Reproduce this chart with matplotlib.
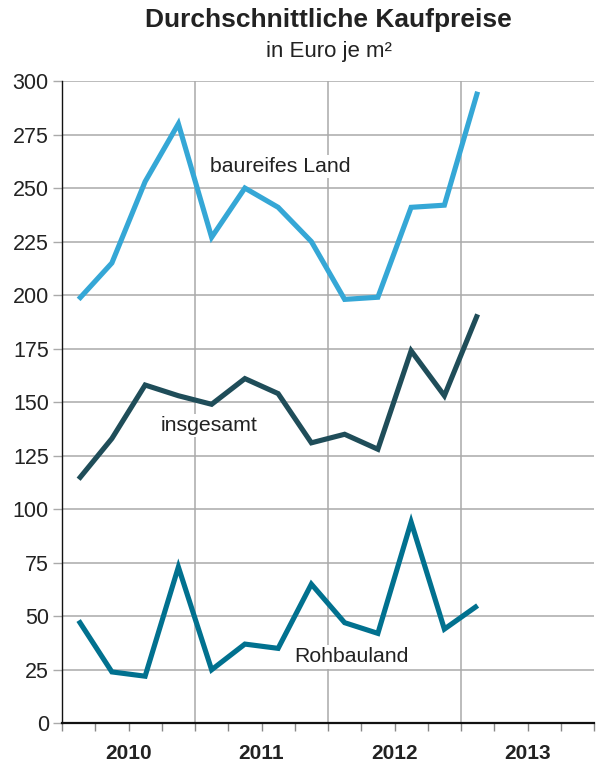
import matplotlib
matplotlib.use("Agg")
import matplotlib.pyplot as plt

plt.rcParams['font.family'] = ['Liberation Sans', 'DejaVu Sans']

years = ["2010", "2011", "2012", "2013"]
quarters_per_year = 4
baureifes_land = [198, 215, 253, 280, 227, 250, 241, 225, 198, 199, 241, 242, 295]
insgesamt = [114, 133, 158, 153, 149, 161, 154, 131, 135, 128, 174, 153, 191]
rohbauland = [48, 24, 22, 73, 25, 37, 35, 65, 47, 42, 94, 44, 55]
y_ticks = list(range(0, 301, 25))

c_land = "#35a7d6"
c_ges = "#1f4d59"
c_roh = "#01718f"
grid_c = "#aaaaaa"
txt_c = "#222222"

fig = plt.figure(figsize=(5.96, 7.63), dpi=100)
ax = fig.add_axes([62/596, 1-723.3/763, (594-62)/596, (723.3-81)/763])

n_q = len(years) * quarters_per_year
xs = [i + 0.5 for i in range(len(baureifes_land))]

ax.set_xlim(0, n_q)
ax.set_ylim(0, 300)

for y in y_ticks[1:]:
    ax.axhline(y, color=grid_c, lw=1.1, zorder=1)
for k in range(1, len(years)):
    ax.axvline(k * quarters_per_year, color=grid_c, lw=1.1, zorder=1)

lw = 3.7
ax.plot(xs, baureifes_land, color=c_land, lw=lw, solid_capstyle='butt', solid_joinstyle='miter', zorder=3)
ax.plot(xs, insgesamt, color=c_ges, lw=lw, solid_capstyle='butt', solid_joinstyle='miter', zorder=3)
ax.plot(xs, rohbauland, color=c_roh, lw=lw, solid_capstyle='butt', solid_joinstyle='miter', zorder=3)

bb = dict(facecolor='white', edgecolor='none', pad=1.5)
fs_lab = 15.3
ax.text(4.45, 260, "baureifes Land", fontsize=fs_lab, color=txt_c, va='center', ha='left', bbox=bb, zorder=2)
ax.text(2.97, 139, "insgesamt", fontsize=fs_lab, color=txt_c, va='center', ha='left', bbox=bb, zorder=2)
ax.text(7.0, 31, "Rohbauland", fontsize=fs_lab, color=txt_c, va='center', ha='left', bbox=bb, zorder=2)

for s in ['top', 'right']:
    ax.spines[s].set_visible(False)
ax.spines['left'].set_color('#111111')
ax.spines['left'].set_linewidth(1.0)
ax.spines['bottom'].set_color('#111111')
ax.spines['bottom'].set_linewidth(1.6)
ax.spines['left'].set_zorder(4)
ax.spines['bottom'].set_zorder(4)

ax.set_yticks(y_ticks)
ax.set_yticklabels([str(v) for v in y_ticks], fontsize=15.5, color=txt_c)
ax.tick_params(axis='y', length=6.5, width=1.0, color=grid_c, pad=3)

ax.set_xticks(range(0, n_q + 1))
ax.set_xticklabels([])
ax.tick_params(axis='x', which='major', length=6, width=1.0, color='#888888')

for k, yr in enumerate(years):
    ax.annotate(yr, xy=(k * quarters_per_year + quarters_per_year / 2, 0),
                xycoords=('data', 'axes fraction'), xytext=(0, -21.5),
                textcoords='offset points', ha='center', va='center',
                fontsize=15, fontweight='bold', color=txt_c, annotation_clip=False)

fig.text(328/596, 1-20/763, "Durchschnittliche Kaufpreise", ha='center', va='center',
         fontsize=19, fontweight='bold', color=txt_c)
fig.text(329/596, 1-52/763, "in Euro je m²", ha='center', va='center', fontsize=16, color=txt_c)

fig.savefig("out.png", dpi=100)
